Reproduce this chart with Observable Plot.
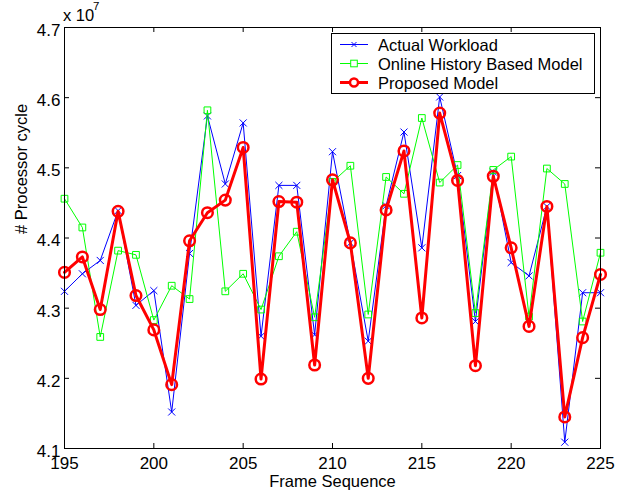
<!DOCTYPE html>
<html><head><meta charset="utf-8">
<script src="https://cdn.jsdelivr.net/npm/d3@7"></script>
<script src="https://cdn.jsdelivr.net/npm/@observablehq/plot@0.6"></script>
<style>
body{margin:0;background:#fff;}
#wrap{position:relative;width:629px;height:493px;font-family:"Liberation Sans",Arial,Helvetica,sans-serif;}
#overlay{position:absolute;left:0;top:0;pointer-events:none;}
</style></head><body><div id="wrap"></div>
<script>
const frames = [195,196,197,198,199,200,201,202,203,204,205,206,207,208,209,210,211,212,213,214,215,216,217,218,219,220,221,222,223,224,225];
const actualWorkload = [4.324,4.349,4.368,4.439,4.304,4.325,4.152,4.378,4.574,4.477,4.564,4.260,4.475,4.475,4.262,4.523,4.393,4.253,4.446,4.551,4.386,4.601,4.489,4.281,4.494,4.365,4.346,4.445,4.109,4.322,4.322];
const historyModel = [4.456,4.415,4.259,4.382,4.376,4.283,4.332,4.313,4.582,4.324,4.349,4.298,4.374,4.409,4.287,4.480,4.503,4.291,4.487,4.463,4.571,4.479,4.504,4.293,4.497,4.516,4.288,4.499,4.477,4.281,4.379];
const proposedModel = [4.351,4.373,4.298,4.438,4.318,4.269,4.191,4.396,4.436,4.454,4.529,4.199,4.452,4.451,4.219,4.483,4.393,4.200,4.440,4.524,4.286,4.578,4.482,4.218,4.488,4.386,4.274,4.445,4.145,4.258,4.348];
const xTicks = [195,200,205,210,215,220,225];
const yTicks = [4.1,4.2,4.3,4.4,4.5,4.6,4.7];
const seriesNames = ["Actual Workload","Online History Based Model","Proposed Model"];
const seriesColors = ["#0000ff","#00ff00","#ff0000"];
const xLabel = "Frame Sequence";
const yLabel = "# Processor cycle";
const multiplierBase = "x 10";
const multiplierExp = "7";

const W = 629, H = 493, mL = 64, mR = 29, mT = 27, mB = 45;
const frameH = H - mT - mB, frameW = W - mL - mR, tk = 5;
const font = "Liberation Sans, Arial, Helvetica, sans-serif";

const chart = Plot.plot({
  width: W, height: H,
  marginLeft: mL, marginRight: mR, marginTop: mT, marginBottom: mB,
  style: {fontFamily: font, fontSize: "17px", background: "white", color: "black"},
  x: {domain: [195, 225]},
  y: {domain: [4.1, 4.7]},
  marks: [
    Plot.axisX({ticks: xTicks, tickSize: 0, tickPadding: 8, label: null, fontSize: 17}),
    Plot.axisY({ticks: yTicks, tickSize: 0, tickPadding: 4, tickFormat: d3.format(".1f"), label: null, dy: 3, fontSize: 17}),
    Plot.tickX(xTicks, {x: d => d, insetTop: frameH - tk, stroke: "black"}),
    Plot.tickX(xTicks, {x: d => d, insetBottom: frameH - tk, stroke: "black"}),
    Plot.tickY(yTicks, {y: d => d, insetRight: frameW - tk, stroke: "black"}),
    Plot.tickY(yTicks, {y: d => d, insetLeft: frameW - tk, stroke: "black"}),
    Plot.line(frames, {x: frames, y: actualWorkload, stroke: seriesColors[0], strokeWidth: 1}),
    Plot.dot(frames, {x: frames, y: actualWorkload, symbol: "times", r: 3.3, stroke: seriesColors[0], strokeWidth: 1}),
    Plot.line(frames, {x: frames, y: historyModel, stroke: seriesColors[1], strokeWidth: 1}),
    Plot.dot(frames, {x: frames, y: historyModel, symbol: "square", r: 3.8, fill: "none", stroke: seriesColors[1], strokeWidth: 1}),
    Plot.line(frames, {x: frames, y: proposedModel, stroke: seriesColors[2], strokeWidth: 3, strokeLinejoin: "round"}),
    Plot.dot(frames, {x: frames, y: proposedModel, symbol: "circle", r: 5.3, fill: "none", stroke: seriesColors[2], strokeWidth: 2.5}),
    Plot.frame({stroke: "black"}),
    Plot.text([xLabel], {frameAnchor: "bottom", lineAnchor: "top", dy: 27, fontSize: 16.5}),
    Plot.text([yLabel], {frameAnchor: "left", rotate: -90, dx: -43, dy: -4, fontSize: 16.5})
  ]
});
const wrap = document.getElementById("wrap");
wrap.appendChild(chart);

// overlay: multiplier and legend
const ov = d3.select(wrap).append("svg").attr("id", "overlay")
  .attr("width", W).attr("height", H)
  .style("font-family", font);
ov.append("text").attr("x", 63).attr("y", 21).attr("font-size", 16.5).text(multiplierBase);
ov.append("text").attr("x", 93).attr("y", 10).attr("font-size", 11.5).text(multiplierExp);

const lg = ov.append("g");
const bx = 331.5, by = 33.5, bw = 263, bh = 60;
lg.append("rect").attr("x", bx).attr("y", by).attr("width", bw).attr("height", bh)
  .attr("fill", "white").attr("stroke", "black").attr("stroke-width", 1);
const rowY = [44.5, 63.5, 82.5];
const widths = [1, 1, 3];
seriesNames.forEach((name, i) => {
  const y = rowY[i];
  lg.append("line").attr("x1", 340).attr("x2", 368).attr("y1", y).attr("y2", y)
    .attr("stroke", seriesColors[i]).attr("stroke-width", widths[i]);
  const cx = 354;
  if (i === 0) {
    lg.append("path").attr("d", `M${cx-2.5},${y-2.5}L${cx+2.5},${y+2.5}M${cx-2.5},${y+2.5}L${cx+2.5},${y-2.5}`)
      .attr("stroke", seriesColors[i]).attr("stroke-width", 1);
  } else if (i === 1) {
    lg.append("rect").attr("x", cx - 3.3).attr("y", y - 3.3).attr("width", 6.6).attr("height", 6.6)
      .attr("fill", "white").attr("stroke", seriesColors[i]).attr("stroke-width", 1);
  } else {
    lg.append("circle").attr("cx", cx).attr("cy", y).attr("r", 4)
      .attr("fill", "white").attr("stroke", seriesColors[i]).attr("stroke-width", 2.5);
  }
  lg.append("text").attr("x", 378).attr("y", y + 6).attr("font-size", 16.5).text(name);
});
</script></body></html>
